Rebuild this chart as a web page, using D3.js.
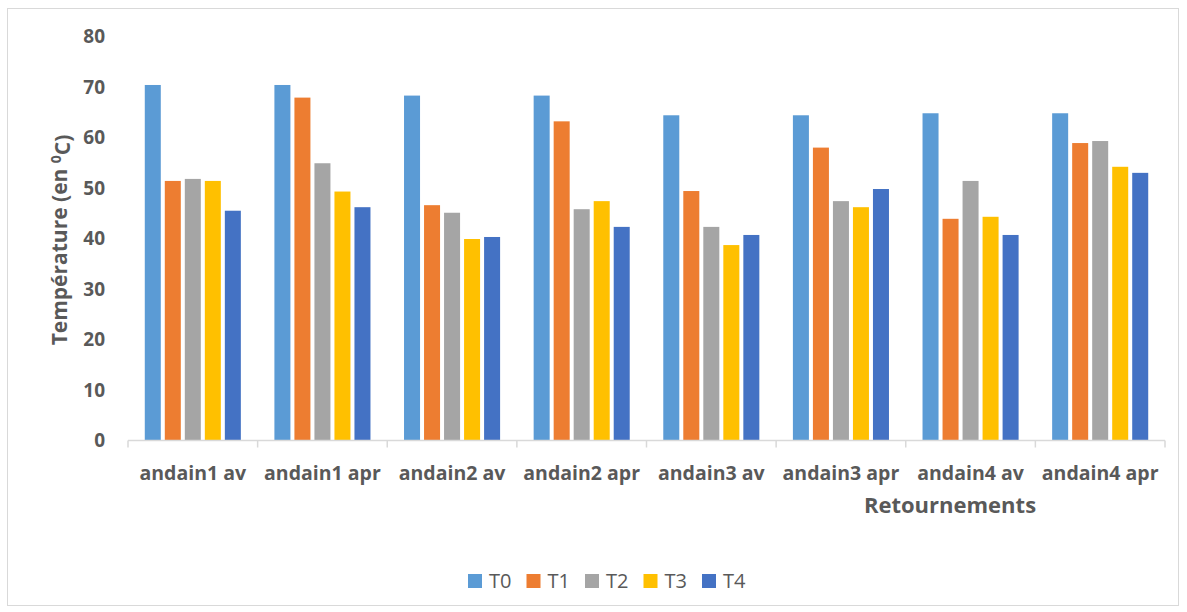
<!DOCTYPE html>
<html>
<head>
<meta charset="utf-8">
<script src="https://cdn.jsdelivr.net/npm/d3@7"></script>
<style>
  body { margin: 0; background: #fff; }
  text { font-family: "Open Sans", "Noto Sans", sans-serif; fill: #595959; }
</style>
</head>
<body>
<svg id="chart" width="1187" height="612"></svg>
<script>
// Data
var categories = ["andain1 av", "andain1 apr", "andain2 av", "andain2 apr", "andain3 av", "andain3 apr", "andain4 av", "andain4 apr"];
var seriesNames = ["T0", "T1", "T2", "T3", "T4"];
var T0 = [70.4, 70.4, 68.3, 68.3, 64.4, 64.4, 64.8, 64.8];
var T1 = [51.4, 67.9, 46.6, 63.2, 49.4, 58.0, 43.9, 58.9];
var T2 = [51.8, 54.9, 45.1, 45.8, 42.3, 47.4, 51.4, 59.3];
var T3 = [51.4, 49.3, 39.9, 47.4, 38.7, 46.2, 44.3, 54.2];
var T4 = [45.5, 46.2, 40.3, 42.3, 40.7, 49.8, 40.7, 53.0];
var yTicks = [0, 10, 20, 30, 40, 50, 60, 70, 80];

var seriesValues = [T0, T1, T2, T3, T4];
var colors = ["#5B9BD5", "#ED7D31", "#A5A5A5", "#FFC000", "#4472C4"];

var svg = d3.select("#chart");

// outer border
svg.append("rect")
   .attr("x", 7.5).attr("y", 8.5)
   .attr("width", 1171).attr("height", 597)
   .attr("fill", "none")
   .attr("stroke", "#d9d9d9");

// Scales
var x0 = d3.scaleBand()
           .domain(categories)
           .range([128, 1165])
           .paddingInner(0.228)
           .paddingOuter(0.114);
var x1 = d3.scaleBand()
           .domain(seriesNames)
           .range([0, x0.bandwidth()])
           .paddingInner(0.2)
           .paddingOuter(0.1);
var y = d3.scaleLinear().domain([0, 80]).range([440.5, 36.5]);

// Y tick labels (no gridlines)
svg.selectAll("yLabels")
   .data(yTicks)
   .enter()
   .append("text")
   .attr("x", 105)
   .attr("y", function(d) { return y(d); })
   .attr("dy", "0.35em")
   .attr("text-anchor", "end")
   .style("font-size", "19px")
   .style("font-weight", "bold")
   .text(function(d) { return d; });

// Bars
var groups = svg.selectAll("barGroup")
                .data(categories)
                .enter()
                .append("g")
                .attr("transform", function(d) { return "translate(" + x0(d) + ",0)"; });
groups.selectAll("rect")
      .data(function(d, i) {
        return seriesNames.map(function(s, k) { return { s: s, k: k, v: seriesValues[k][i] }; });
      })
      .enter()
      .append("rect")
      .attr("x", function(d) { return x1(d.s); })
      .attr("width", x1.bandwidth())
      .attr("y", function(d) { return y(d.v); })
      .attr("height", function(d) { return y(0) - y(d.v); })
      .attr("fill", function(d) { return colors[d.k]; });

// X axis line + ticks at category boundaries
var xAxis = svg.append("g").attr("transform", "translate(0," + y(0) + ")");
xAxis.append("line")
     .attr("x1", 128).attr("x2", 1165)
     .attr("y1", 0).attr("y2", 0)
     .attr("stroke", "#d9d9d9").attr("stroke-width", 1.5);
var bounds = categories.map(function(c) { return x0(c) - x0.step() * x0.paddingInner() / 2; });
bounds.push(1165);
xAxis.selectAll("tickLine")
     .data(bounds)
     .enter()
     .append("line")
     .attr("x1", function(d) { return d; }).attr("x2", function(d) { return d; })
     .attr("y1", 0).attr("y2", 7)
     .attr("stroke", "#d9d9d9").attr("stroke-width", 1.5);

// Category labels
svg.selectAll("catLabels")
   .data(categories)
   .enter()
   .append("text")
   .attr("x", function(d) { return x0(d) + x0.bandwidth() / 2; })
   .attr("y", 480)
   .attr("text-anchor", "middle")
   .style("font-size", "19.5px")
   .style("font-weight", "bold")
   .text(function(d) { return d; });

// Axis titles
svg.append("text")
   .attr("x", 950).attr("y", 513)
   .attr("text-anchor", "middle")
   .style("font-size", "22px")
   .style("font-weight", "bold")
   .text("Retournements");

var yTitle = svg.append("text")
   .attr("transform", "translate(67,240) rotate(-90)")
   .attr("text-anchor", "middle")
   .style("font-size", "21px")
   .style("font-weight", "bold");
yTitle.append("tspan").text("Température (en ");
yTitle.append("tspan").attr("dy", "-0.45em").style("font-size", "14px").text("0");
yTitle.append("tspan").attr("dy", "0.45em").text("C)");

// Legend
var legend = svg.selectAll("legendItem")
                .data(seriesNames)
                .enter()
                .append("g")
                .attr("transform", function(d, i) { return "translate(" + (468 + i * 58.5) + ",574)"; });
legend.append("rect")
      .attr("width", 14).attr("height", 14)
      .attr("fill", function(d, i) { return colors[i]; });
legend.append("text")
      .attr("x", 21).attr("y", 7)
      .attr("dy", "0.36em")
      .style("font-size", "20px")
      .text(function(d) { return d; });
</script>
</body>
</html>
